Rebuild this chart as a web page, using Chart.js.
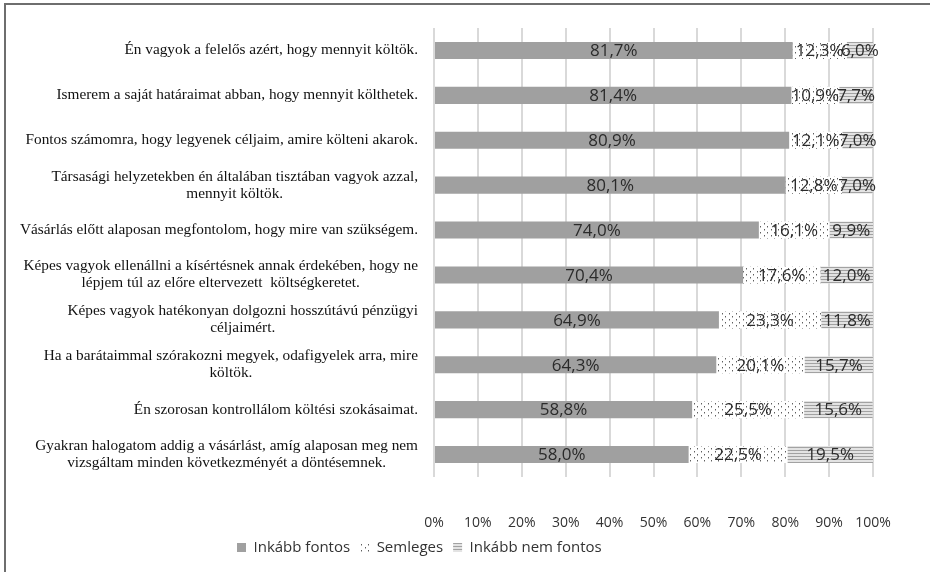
<!DOCTYPE html>
<html>
<head>
<meta charset="utf-8">
<script src="https://cdn.jsdelivr.net/npm/chart.js@4"></script>
<style>
    html, body { margin: 0; padding: 0; background: #fff; }
    #wrap { position: relative; width: 930px; height: 572px; }
    #wrap canvas { position: absolute; left: 0; top: 0; }
    .frame-top { position: absolute; left: 4px; top: 3px; width: 926px; height: 2px; background: #6e6e6e; }
    .frame-left { position: absolute; left: 4px; top: 3px; width: 2px; height: 569px; background: #6e6e6e; }
</style>
</head>
<body>
<div id="wrap">
    <canvas id="mainChart" width="930" height="572"></canvas>
    <div class="frame-top"></div>
    <div class="frame-left"></div>
</div>
<script>
// Kategóriák (állítások), soronként tördelve
const statements = [
    ['Én vagyok a felelős azért, hogy mennyit költök.'],
    ['Ismerem a saját határaimat abban, hogy mennyit költhetek.'],
    ['Fontos számomra, hogy legyenek céljaim, amire költeni akarok.'],
    ['Társasági helyzetekben én általában tisztában vagyok azzal,', 'mennyit költök.'],
    ['Vásárlás előtt alaposan megfontolom, hogy mire van szükségem.'],
    ['Képes vagyok ellenállni a kísértésnek annak érdekében, hogy ne', 'lépjem túl az előre eltervezett  költségkeretet.'],
    ['Képes vagyok hatékonyan dolgozni hosszútávú pénzügyi', 'céljaimért.'],
    ['Ha a barátaimmal szórakozni megyek, odafigyelek arra, mire', 'költök.'],
    ['Én szorosan kontrollálom költési szokásaimat.'],
    ['Gyakran halogatom addig a vásárlást, amíg alaposan meg nem', 'vizsgáltam minden következményét a döntésemnek.']
];

// Értékek (%)
const fontos    = [81.7, 81.4, 80.9, 80.1, 74.0, 70.4, 64.9, 64.3, 58.8, 58.0];
const semleges  = [12.3, 10.9, 12.1, 12.8, 16.1, 17.6, 23.3, 20.1, 25.5, 22.5];
const nemFontos = [6.0, 7.7, 7.0, 7.0, 9.9, 12.0, 11.8, 15.7, 15.6, 19.5];

const seriesNames = ['Inkább fontos', 'Semleges', 'Inkább nem fontos'];
const xTicks = [0, 10, 20, 30, 40, 50, 60, 70, 80, 90, 100];

// Mintázatok
function makeDots() {
    const c = document.createElement('canvas');
    c.width = 7; c.height = 6;
    const g = c.getContext('2d');
    g.fillStyle = '#ffffff';
    g.fillRect(0, 0, 7, 6);
    g.fillStyle = '#5e5e5e';
    g.fillRect(1, 1, 1, 1);
    g.fillRect(4, 4, 1, 1);
    g.fillStyle = '#b5b5b5';
    g.fillRect(1, 2, 1, 1);
    g.fillRect(4, 5, 1, 1);
    return g.createPattern(c, 'repeat');
}

function makeLines() {
    const c = document.createElement('canvas');
    c.width = 4; c.height = 3;
    const g = c.getContext('2d');
    g.fillStyle = '#e3e3e3';
    g.fillRect(0, 0, 4, 3);
    g.fillStyle = '#a2a2a2';
    g.fillRect(0, 0, 4, 1);
    return g.createPattern(c, 'repeat');
}

function fmt(v) {
    return v.toFixed(1).replace('.', ',') + '%';
}

// Értékcímkék a sávok közepén
const valueLabels = {
    id: 'valueLabels',
    afterDatasetsDraw(chart) {
        const ctx = chart.ctx;
        ctx.save();
        ctx.font = '17px "Open Sans"';
        ctx.fillStyle = '#2b2b2b';
        ctx.textAlign = 'center';
        ctx.textBaseline = 'middle';
        chart.data.datasets.forEach((ds, di) => {
            const meta = chart.getDatasetMeta(di);
            meta.data.forEach((bar, i) => {
                const p = bar.getProps(['x', 'base', 'y'], true);
                ctx.fillText(fmt(ds.data[i]), (p.x + p.base) / 2, p.y + 1);
            });
        });
        ctx.restore();
    }
};

// Kategóriacímkék: jobbra zárt blokk, soronként középre igazítva
const statementLabels = {
    id: 'statementLabels',
    afterDraw(chart) {
        const ctx = chart.ctx;
        const yScale = chart.scales.y;
        const right = chart.chartArea.left - 16;
        const lineH = 17;
        ctx.save();
        ctx.font = '15.3px "Liberation Serif"';
        ctx.fillStyle = '#111111';
        ctx.textAlign = 'center';
        ctx.textBaseline = 'middle';
        statements.forEach((lines, i) => {
            const widest = Math.max(...lines.map(l => ctx.measureText(l).width));
            const cx = right - widest / 2;
            const cy = yScale.getPixelForValue(i);
            const y0 = cy - (lines.length - 1) * lineH / 2;
            lines.forEach((l, k) => ctx.fillText(l, cx, y0 + k * lineH));
        });
        ctx.restore();
    }
};

document.addEventListener('DOMContentLoaded', function() {
    const ctx = document.getElementById('mainChart');
    new Chart(ctx, {
        type: 'bar',
        data: {
            labels: statements.map(s => s.join(' ')),
            datasets: [{
                label: seriesNames[0],
                data: fontos,
                backgroundColor: '#a0a0a0'
            }, {
                label: seriesNames[1],
                data: semleges,
                backgroundColor: makeDots()
            }, {
                label: seriesNames[2],
                data: nemFontos,
                backgroundColor: makeLines()
            }]
        },
        options: {
            indexAxis: 'y',
            responsive: false,
            animation: false,
            datasets: {
                bar: {
                    categoryPercentage: 1,
                    barPercentage: 0.38,
                    borderWidth: 0
                }
            },
            layout: {
                padding: { left: 227, right: 57, top: 28, bottom: 7 }
            },
            plugins: {
                tooltip: { enabled: false },
                legend: {
                    position: 'bottom',
                    align: 'start',
                    labels: {
                        boxWidth: 9,
                        boxHeight: 9,
                        padding: 10,
                        color: '#333333',
                        font: { family: 'Open Sans', size: 15 }
                    }
                }
            },
            scales: {
                x: {
                    stacked: true,
                    min: 0,
                    max: 100,
                    afterBuildTicks(scale) {
                        scale.ticks = xTicks.map(v => ({ value: v }));
                    },
                    afterFit(scale) {
                        scale.height = 53;
                    },
                    ticks: {
                        callback: v => v + '%',
                        color: '#333333',
                        padding: 38,
                        maxRotation: 0,
                        font: { family: 'Open Sans', size: 14 }
                    },
                    grid: {
                        color: '#d9d9d9',
                        lineWidth: 2,
                        drawTicks: false
                    },
                    border: { display: false }
                },
                y: {
                    stacked: true,
                    afterFit(scale) {
                        scale.width = 207;
                    },
                    ticks: { display: false },
                    grid: { display: false },
                    border: { display: false }
                }
            }
        },
        plugins: [valueLabels, statementLabels]
    });
});
</script>
</body>
</html>
